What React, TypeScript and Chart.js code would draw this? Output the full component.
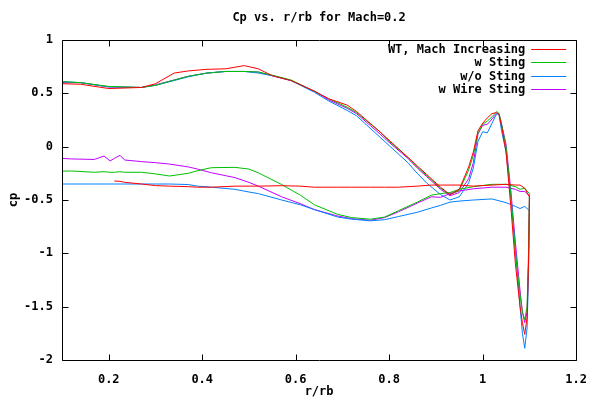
import React, { useEffect, useRef } from "react";
import { Chart, registerables } from "chart.js";

Chart.register(...registerables);

const FONT = "'DejaVu Sans Mono', 'Liberation Mono', monospace";

const chartTitle = "Cp vs. r/rb for Mach=0.2";
const xTitle = "r/rb";
const yTitle = "cp";
const xTicks = [0.2, 0.4, 0.6, 0.8, 1, 1.2];
const yTicks = [-2, -1.5, -1, -0.5, 0, 0.5, 1];

const seriesLabels = ["WT, Mach Increasing", "w Sting", "w/o Sting", "w Wire Sting"];
const seriesColors = ["#ff0000", "#00c000", "#0080ff", "#c000ff"];

// Upper surface, left to right
const upperX = [0.10, 0.14, 0.20, 0.27, 0.30, 0.34, 0.37, 0.41, 0.45, 0.49,
  0.52, 0.55, 0.59, 0.64, 0.67, 0.71, 0.73, 0.78, 0.80, 0.84,
  0.86, 0.88, 0.91, 0.93, 0.95, 0.97, 0.98, 0.99, 1.00, 1.01,
  1.02, 1.03, 1.035, 1.04, 1.05, 1.06, 1.07, 1.08, 1.085, 1.09,
  1.095, 1.098, 1.10];
const redUpper = [0.59, 0.585, 0.545, 0.555, 0.59, 0.69, 0.71, 0.725, 0.73, 0.76,
  0.73, 0.665, 0.62, 0.52, 0.45, 0.39, 0.33, 0.14, 0.06, -0.10,
  -0.18, -0.26, -0.38, -0.45, -0.40, -0.19, -0.05, 0.15, 0.22, 0.27,
  0.31, 0.32, 0.30, 0.20, -0.05, -0.55, -1.10, -1.50, -1.65, -1.76,
  -1.60, -1.10, -0.50];
const greenUpper = [0.61, 0.60, 0.565, 0.555, 0.575, 0.625, 0.66, 0.69, 0.705, 0.705,
  0.70, 0.67, 0.625, 0.52, 0.45, 0.37, 0.32, 0.14, 0.05, -0.10,
  -0.19, -0.27, -0.39, -0.45, -0.41, -0.22, -0.08, 0.13, 0.21, 0.24,
  0.28, 0.33, 0.31, 0.22, 0.00, -0.45, -1.00, -1.40, -1.55, -1.62,
  -1.50, -1.00, -0.45];
const blueUpper = [0.61, 0.60, 0.56, 0.555, 0.575, 0.62, 0.655, 0.69, 0.705, 0.705,
  0.69, 0.665, 0.62, 0.51, 0.43, 0.34, 0.29, 0.09, 0.01, -0.15,
  -0.25, -0.34, -0.45, -0.50, -0.47, -0.34, -0.20, 0.05, 0.14, 0.13,
  0.22, 0.31, 0.30, 0.16, -0.05, -0.45, -0.95, -1.50, -1.75, -1.89,
  -1.70, -1.20, -0.60];
const magentaUpper = [0.60, 0.60, 0.56, 0.555, 0.58, 0.625, 0.66, 0.69, 0.705, 0.705,
  0.70, 0.665, 0.62, 0.52, 0.44, 0.36, 0.31, 0.12, 0.04, -0.11,
  -0.20, -0.28, -0.40, -0.46, -0.43, -0.30, -0.15, 0.12, 0.20, 0.21,
  0.26, 0.31, 0.31, 0.22, 0.02, -0.40, -0.90, -1.35, -1.55, -1.65,
  -1.55, -1.10, -0.48];

// Lower surface, right to left
const lowerX = [1.10, 1.09, 1.08, 1.07, 1.05, 1.02, 0.98, 0.95, 0.93, 0.91,
  0.89, 0.86, 0.82, 0.79, 0.76, 0.72, 0.69, 0.64, 0.61, 0.57,
  0.52, 0.50, 0.47, 0.42, 0.39, 0.37, 0.33, 0.30, 0.27, 0.234,
  0.224, 0.212, 0.203, 0.19, 0.169, 0.12, 0.10];
const redLower = [-0.47, -0.39, -0.36, -0.36, -0.353, -0.36, -0.37, -0.36, -0.36, -0.36,
  -0.36, -0.37, -0.38, -0.38, -0.38, -0.38, -0.38, -0.38, -0.37, -0.366,
  -0.37, -0.37, -0.37, -0.38, -0.38, -0.375, -0.37, -0.365, -0.35, -0.334,
  -0.325, -0.322, null, null, null, null, null];
const greenLower = [-0.44, -0.39, -0.40, -0.375, -0.353, -0.353, -0.375, -0.40, -0.43, -0.44,
  -0.455, -0.52, -0.60, -0.66, -0.68, -0.665, -0.635, -0.545, -0.455, -0.355,
  -0.245, -0.21, -0.194, -0.197, -0.225, -0.25, -0.275, -0.255, -0.24, -0.24,
  -0.235, -0.24, -0.24, -0.235, -0.24, -0.228, -0.23];
const blueLower = [-0.60, -0.56, -0.58, -0.56, -0.525, -0.49, -0.50, -0.51, -0.52, -0.55,
  -0.575, -0.615, -0.655, -0.685, -0.695, -0.68, -0.66, -0.59, -0.545, -0.50,
  -0.44, -0.425, -0.40, -0.38, -0.37, -0.355, -0.35, -0.35, -0.35, -0.35,
  -0.35, -0.35, -0.35, -0.35, -0.35, -0.35, -0.35];
const magentaLower = [-0.46, -0.42, -0.42, -0.40, -0.38, -0.38, -0.395, -0.415, -0.44, -0.475,
  -0.47, -0.53, -0.61, -0.665, -0.69, -0.675, -0.65, -0.59, -0.535, -0.47,
  -0.37, -0.335, -0.29, -0.245, -0.21, -0.19, -0.163, -0.15, -0.14, -0.125,
  -0.081, -0.11, -0.134, -0.088, -0.12, -0.115, -0.11];

const uppers = [redUpper, greenUpper, blueUpper, magentaUpper];
const lowers = [redLower, greenLower, blueLower, magentaLower];

function buildPoints(up: number[], low: (number | null)[]) {
  const pts: { x: number; y: number }[] = [];
  upperX.forEach((x, i) => pts.push({ x, y: up[i] }));
  lowerX.forEach((x, i) => {
    const y = low[i];
    if (y !== null && y !== undefined) pts.push({ x, y });
  });
  return pts;
}

const framePlugin = {
  id: "gnuFrame",
  afterDatasetsDraw(chart: any) {
    const { ctx, chartArea } = chart;
    const { left, right, top, bottom } = chartArea;
    const xs = chart.scales.x;
    const ys = chart.scales.y;
    const L = Math.round(left) + 0.5;
    const R = Math.round(right) + 0.5;
    const T = Math.round(top) + 0.5;
    const B = Math.round(bottom) + 0.5;
    ctx.save();
    ctx.strokeStyle = "#000";
    ctx.lineWidth = 1;
    ctx.beginPath();
    ctx.moveTo(L, T);
    ctx.lineTo(R, T);
    ctx.lineTo(R, B);
    ctx.lineTo(L, B);
    ctx.closePath();
    const tl = 6;
    xTicks.forEach((v) => {
      const px = Math.round(xs.getPixelForValue(v)) + 0.5;
      ctx.moveTo(px, B);
      ctx.lineTo(px, B - tl);
      ctx.moveTo(px, T);
      ctx.lineTo(px, T + tl);
    });
    yTicks.forEach((v) => {
      const py = Math.round(ys.getPixelForValue(v)) + 0.5;
      ctx.moveTo(L, py);
      ctx.lineTo(L + tl, py);
      ctx.moveTo(R, py);
      ctx.lineTo(R - tl, py);
    });
    ctx.stroke();

    // key (legend) in top-right, gnuplot style
    ctx.font = `bold 12px ${FONT}`;
    ctx.textAlign = "right";
    ctx.textBaseline = "middle";
    chart.data.datasets.forEach((ds: any, i: number) => {
      const ly = Math.round(top + 8.5 + i * 13.5) + 0.5;
      ctx.fillStyle = "#000";
      ctx.fillText(ds.label, right - 51, ly);
      ctx.strokeStyle = ds.borderColor;
      ctx.beginPath();
      ctx.moveTo(right - 45, ly);
      ctx.lineTo(right - 10, ly);
      ctx.stroke();
    });
    ctx.restore();
  },
};

export default function App() {
  const canvasRef = useRef<HTMLCanvasElement | null>(null);

  useEffect(() => {
    const canvas = canvasRef.current;
    if (!canvas) return;
    const tickFont = { family: FONT, size: 12, weight: "bold" as const };
    const chart = new Chart(canvas, {
      type: "scatter",
      data: {
        datasets: seriesLabels.map((label, i) => ({
          label,
          data: buildPoints(uppers[i], lowers[i]),
          showLine: true,
          borderColor: seriesColors[i],
          backgroundColor: seriesColors[i],
          borderWidth: 1,
          pointRadius: 0,
          pointHoverRadius: 0,
          tension: 0,
          fill: false,
        })),
      },
      options: {
        responsive: false,
        animation: false,
        devicePixelRatio: 1,
        layout: { padding: { left: 0, right: 22, top: 0, bottom: 0 } },
        plugins: {
          legend: { display: false },
          tooltip: { enabled: false },
          title: {
            display: true,
            text: chartTitle,
            fullSize: false,
            color: "#000",
            font: tickFont,
            padding: { top: 11, bottom: 14.6 },
          },
        },
        scales: {
          x: {
            type: "linear",
            min: 0.1,
            max: 1.2,
            afterBuildTicks: (s: any) => {
              s.ticks = xTicks.map((v) => ({ value: v }));
            },
            afterFit: (s: any) => {
              s.height = 40;
            },
            grid: { display: false, drawTicks: false },
            border: { display: false },
            ticks: {
              padding: 13,
              color: "#000",
              font: tickFont,
              autoSkip: false,
              maxRotation: 0,
              callback: (v: any) => String(v),
            },
            title: {
              display: true,
              text: xTitle,
              color: "#000",
              font: tickFont,
              padding: { top: 0, bottom: 1 },
            },
          },
          y: {
            type: "linear",
            min: -2,
            max: 1,
            afterBuildTicks: (s: any) => {
              s.ticks = yTicks.map((v) => ({ value: v }));
            },
            afterFit: (s: any) => {
              s.width = 62;
            },
            grid: { display: false, drawTicks: false },
            border: { display: false },
            ticks: {
              padding: 9,
              color: "#000",
              font: tickFont,
              autoSkip: false,
              callback: (v: any) => String(v),
            },
            title: {
              display: true,
              text: yTitle,
              color: "#000",
              font: tickFont,
              padding: { top: 7, bottom: 0 },
            },
          },
        },
      },
      plugins: [framePlugin],
    } as any);
    return () => chart.destroy();
  }, []);

  return (
    <div style={{ position: "fixed", left: 0, top: 0, width: 600, height: 400, background: "#fff" }}>
      <canvas ref={canvasRef} width={600} height={400} style={{ display: "block" }} />
    </div>
  );
}
